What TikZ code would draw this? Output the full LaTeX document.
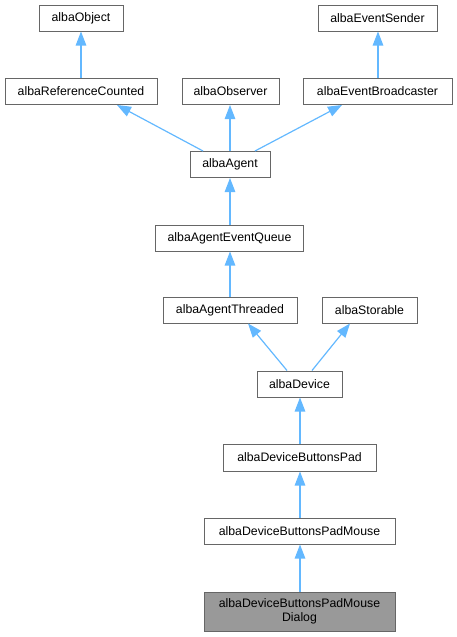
\documentclass[tikz,border=0pt]{standalone}
\usepackage{fontspec}
\setmainfont{Liberation Sans}
\usetikzlibrary{arrows.meta}
\definecolor{boxgray}{HTML}{666666}
\definecolor{edgeblue}{HTML}{63B8FF}
\definecolor{curfill}{HTML}{999999}
\tikzset{
  cls/.style={draw=boxgray, fill=white, line width=1pt, inner sep=0pt, minimum height=26pt,
    font=\fontsize{12.3}{14.5}\selectfont, align=center, text=black},
  edge/.style={draw=edgeblue, line width=1.2pt, -{Triangle[length=14pt,width=10.5pt]}}
}
\begin{document}
\begin{tikzpicture}[x=1pt,y=-1pt]
\useasboundingbox (0,0) rectangle (457,637);
\node[cls, minimum width=84pt] (obj) at (81,18) {albaObject};
\node[cls, minimum width=119pt] (sender) at (377.5,18) {albaEventSender};
\node[cls, minimum width=152pt] (refc) at (81,91.5) {albaReferenceCounted};
\node[cls, minimum width=97pt] (obs) at (230.5,91.5) {albaObserver};
\node[cls, minimum width=149pt] (bcast) at (377.5,91.5) {albaEventBroadcaster};
\node[cls, minimum width=80pt] (agent) at (230,164.5) {albaAgent};
\node[cls, minimum width=148pt] (queue) at (229.5,238) {albaAgentEventQueue};
\node[cls, minimum width=134pt] (thr) at (230,310) {albaAgentThreaded};
\node[cls, minimum width=95pt] (stor) at (369.5,310) {albaStorable};
\node[cls, minimum width=85pt] (dev) at (299.5,384) {albaDevice};
\node[cls, minimum width=153pt, minimum height=27pt] (pad) at (299.5,457.5) {albaDeviceButtonsPad};
\node[cls, minimum width=191pt] (mouse) at (299.5,531) {albaDeviceButtonsPadMouse};
\node[cls, fill=curfill, minimum width=191pt, minimum height=39pt] (dlg) at (299.5,611.5) {albaDeviceButtonsPadMouse\\Dialog};

\draw[edge] (refc.north) -- (obj.south);
\draw[edge] ([xshift=0.5pt]bcast.north) -- ([xshift=0.5pt]sender.south);
\draw[edge] ([xshift=-27pt]agent.north) -- ([xshift=36pt]refc.south);
\draw[edge] (agent.north) -- ([xshift=-0.5pt]obs.south);
\draw[edge] ([xshift=25pt]agent.north) -- ([xshift=-35.5pt]bcast.south);
\draw[edge] ([xshift=0.5pt]queue.north) -- (agent.south);
\draw[edge] (thr.north) -- ([xshift=0.5pt]queue.south);
\draw[edge] ([xshift=-12.5pt]dev.north) -- ([xshift=18pt]thr.south);
\draw[edge] ([xshift=12.5pt]dev.north) -- ([xshift=-19.5pt]stor.south);
\draw[edge] ([xshift=0.5pt]pad.north) -- ([xshift=0.5pt]dev.south);
\draw[edge] ([xshift=0.5pt]mouse.north) -- ([xshift=0.5pt]pad.south);
\draw[edge] ([xshift=0.5pt]dlg.north) -- ([xshift=0.5pt]mouse.south);
\end{tikzpicture}
\end{document}
